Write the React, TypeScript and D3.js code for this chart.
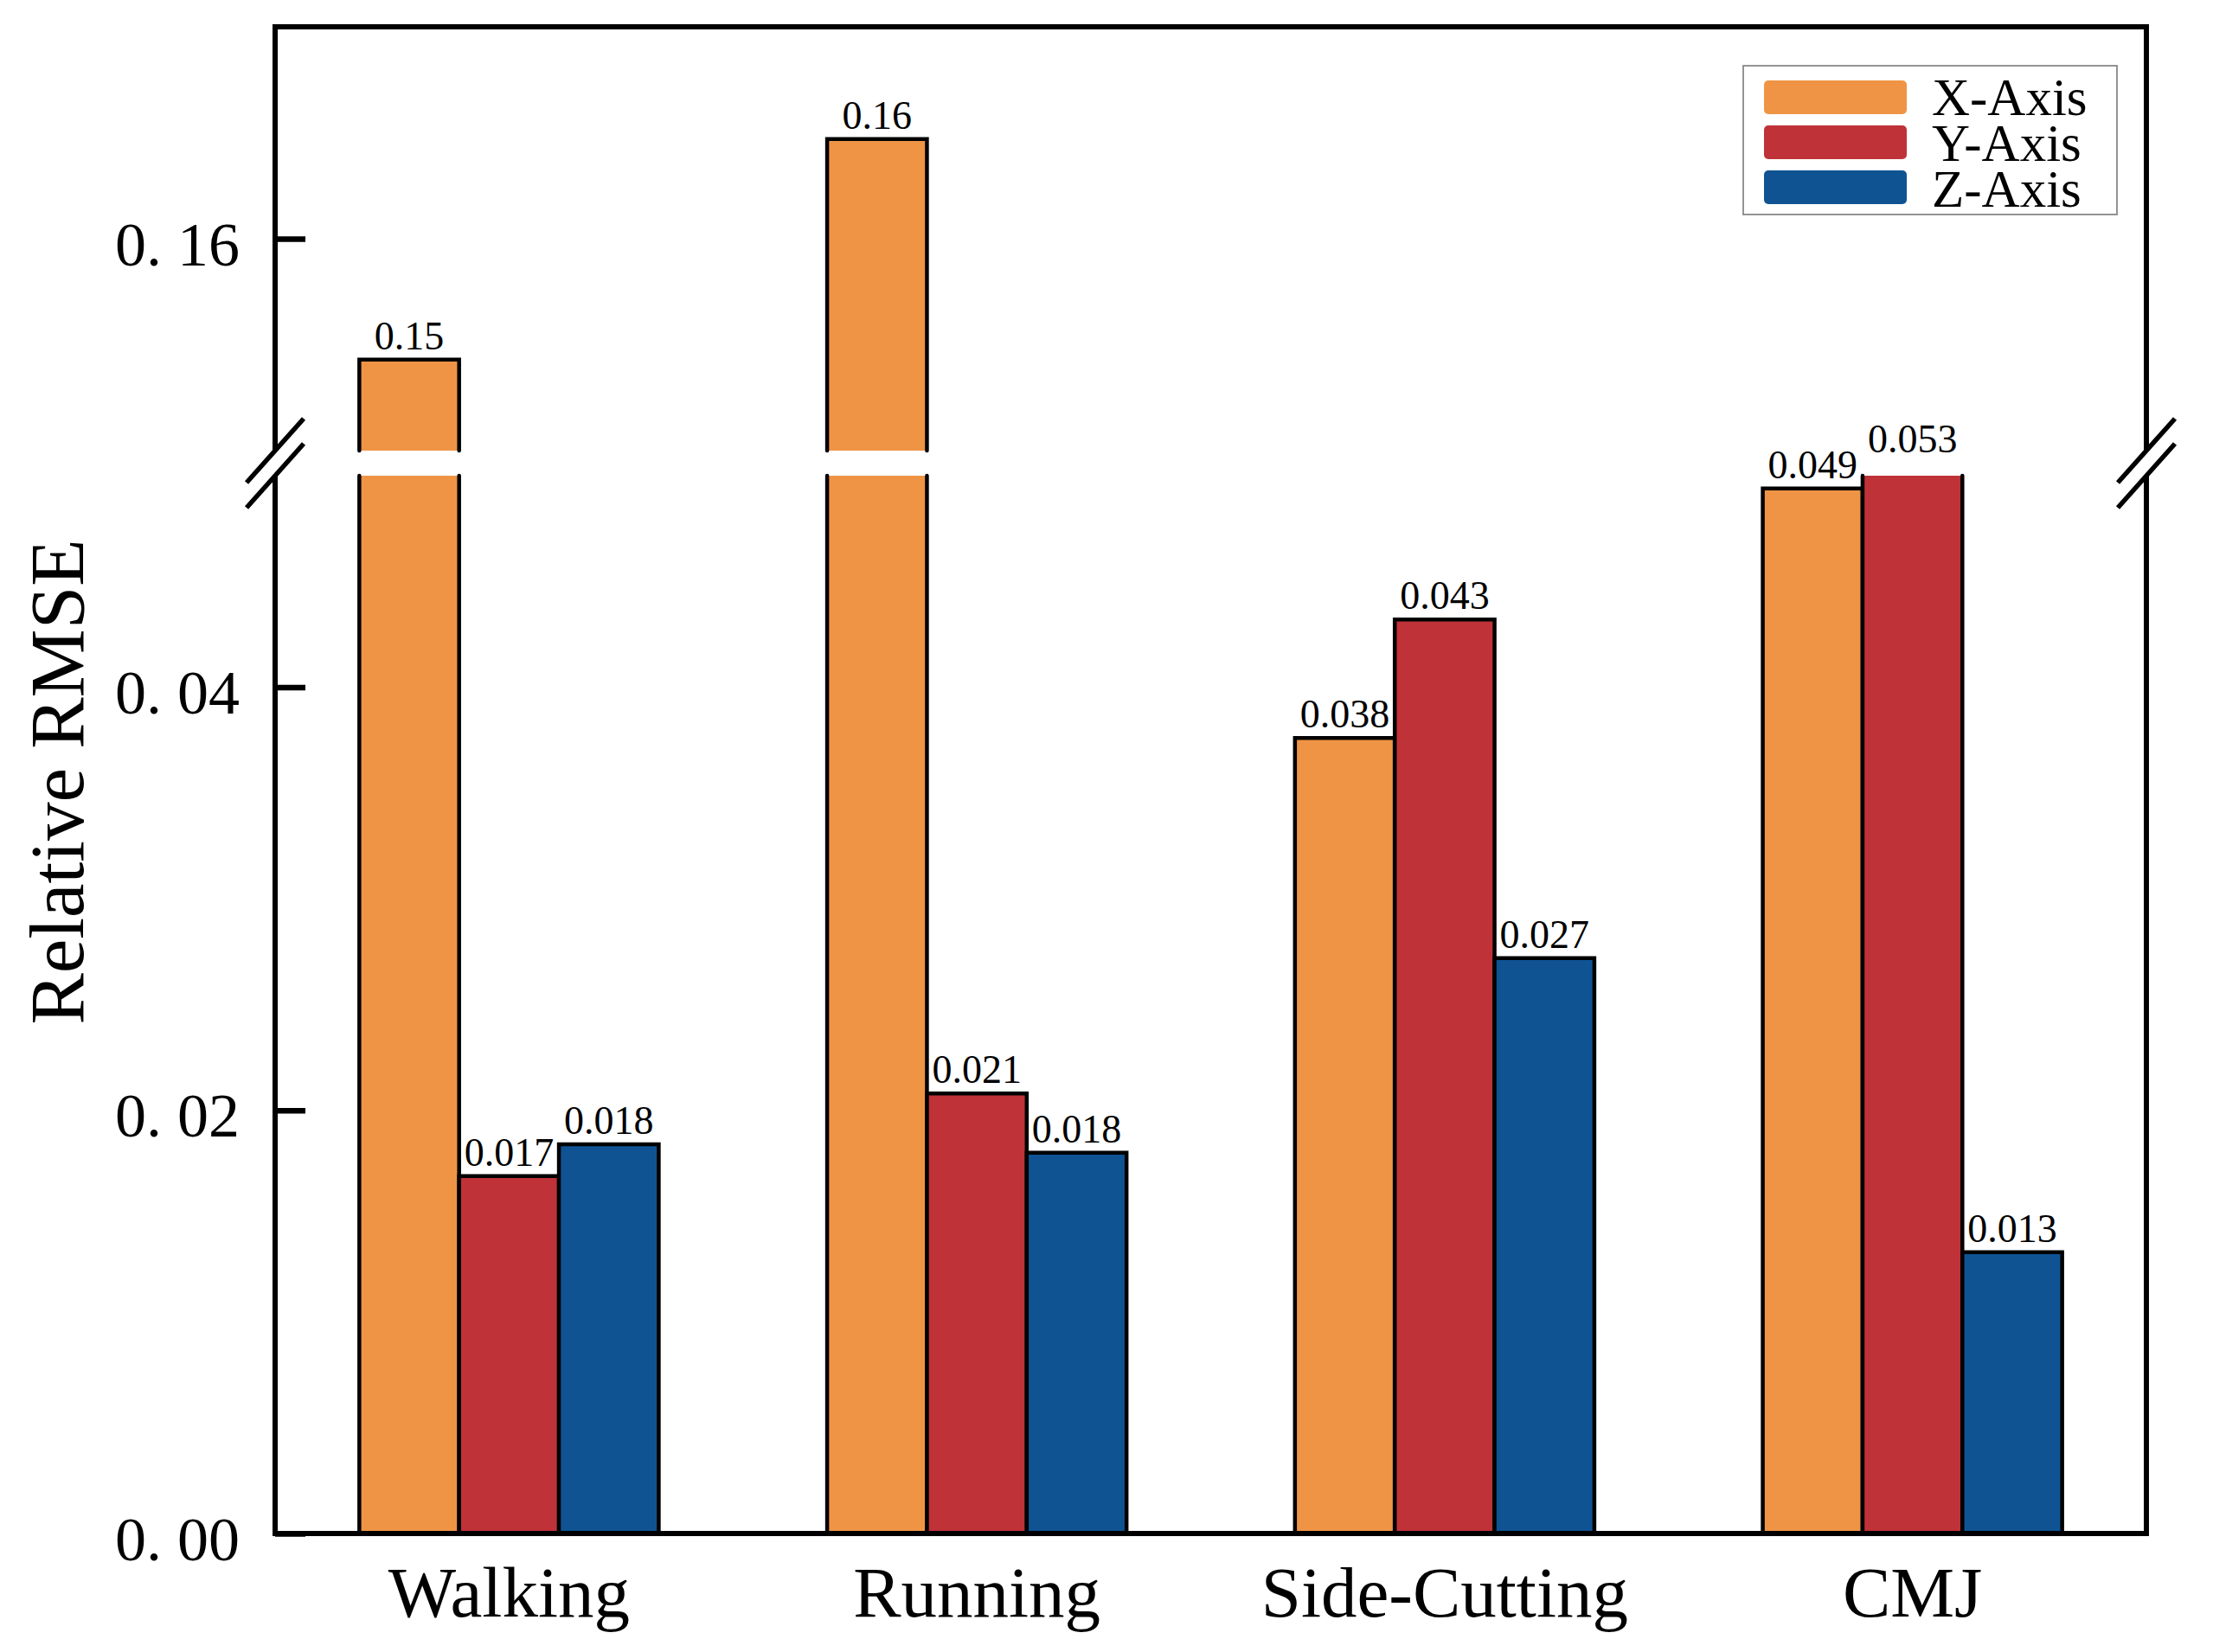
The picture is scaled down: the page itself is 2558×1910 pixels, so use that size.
import React, { useEffect, useRef } from 'react';
import * as d3 from 'd3';

const categories = ['Walking', 'Running', 'Side-Cutting', 'CMJ'];
const seriesNames = ['X-Axis', 'Y-Axis', 'Z-Axis'];
const xAxisValues = [0.1543, 0.1647, 0.0376, 0.0494];
const yAxisValues = [0.0169, 0.0208, 0.0432, 0.053];
const zAxisValues = [0.0184, 0.018, 0.0272, 0.0133];
const seriesColors = ['#EF9445', '#BF3237', '#0F5393'];
const lowerTicks = [0, 0.02, 0.04];
const lowerTickLabels = ['0. 00', '0. 02', '0. 04'];
const upperTicks = [0.16];
const upperTickLabels = ['0. 16'];
const lowerDomain = [0, 0.05];
const upperDomain = [0.15, 0.17];
const yTitle = 'Relative RMSE';

const W = 2558;
const H = 1910;
const M = { left: 318, right: 2481, top: 31, bottom: 1773 };
const lowerTop = 550;
const upperBottom = 521;
const FONT = '"Liberation Serif", "Times New Roman", serif';

export default function App() {
  const ref = useRef<SVGSVGElement | null>(null);

  useEffect(() => {
    const svg = d3.select(ref.current);
    svg.selectAll('*').remove();

    const seriesValues = [xAxisValues, yAxisValues, zAxisValues];

    const x0 = d3
      .scaleBand<string>()
      .domain(categories)
      .range([M.left, M.right])
      .paddingInner(0.36)
      .paddingOuter(0.18);
    const x1 = d3
      .scaleBand<string>()
      .domain(seriesNames)
      .range([0, x0.bandwidth()])
      .padding(0);
    const yLow = d3.scaleLinear().domain(lowerDomain).range([M.bottom, lowerTop]);
    const yUp = d3.scaleLinear().domain(upperDomain).range([upperBottom, M.top]);
    const fmt = d3.format('.2r');

    svg.append('rect').attr('width', W).attr('height', H).attr('fill', '#fff');

    const gBars = svg.append('g');
    const gLabels = svg.append('g');

    categories.forEach((cat, ci) => {
      seriesNames.forEach((sn, si) => {
        const v = seriesValues[si][ci];
        const bx0 = (x0(cat) as number) + (x1(sn) as number);
        const bx1 = bx0 + x1.bandwidth();
        // lower segment
        const lowClipped = v > lowerDomain[1];
        const lowTopY = lowClipped ? yLow(lowerDomain[1]) : yLow(v);
        gBars
          .append('rect')
          .attr('x', bx0)
          .attr('y', lowTopY)
          .attr('width', bx1 - bx0)
          .attr('height', M.bottom - lowTopY)
          .attr('fill', seriesColors[si]);
        const p = d3.path();
        if (lowClipped) {
          p.moveTo(bx0, M.bottom);
          p.lineTo(bx0, lowTopY);
          p.moveTo(bx1, lowTopY);
          p.lineTo(bx1, M.bottom);
        } else {
          p.moveTo(bx0, M.bottom);
          p.lineTo(bx0, lowTopY);
          p.lineTo(bx1, lowTopY);
          p.lineTo(bx1, M.bottom);
        }
        gBars
          .append('path')
          .attr('d', p.toString())
          .attr('fill', 'none')
          .attr('stroke', '#000')
          .attr('stroke-width', 4.5)
          .attr('stroke-linecap', 'round');

        // upper segment
        let labelY: number;
        if (v > upperDomain[0]) {
          const upTopY = yUp(Math.min(v, upperDomain[1]));
          gBars
            .append('rect')
            .attr('x', bx0)
            .attr('y', upTopY)
            .attr('width', bx1 - bx0)
            .attr('height', upperBottom - upTopY)
            .attr('fill', seriesColors[si]);
          const q = d3.path();
          q.moveTo(bx0, upperBottom);
          q.lineTo(bx0, upTopY);
          q.lineTo(bx1, upTopY);
          q.lineTo(bx1, upperBottom);
          gBars
            .append('path')
            .attr('d', q.toString())
            .attr('fill', 'none')
            .attr('stroke', '#000')
            .attr('stroke-width', 4.5)
            .attr('stroke-linecap', 'round');
          labelY = upTopY - 12;
        } else if (lowClipped) {
          labelY = lowTopY - 27;
        } else {
          labelY = lowTopY - 12;
        }
        gLabels
          .append('text')
          .attr('x', (bx0 + bx1) / 2)
          .attr('y', labelY)
          .attr('text-anchor', 'middle')
          .attr('font-family', FONT)
          .attr('font-size', 46)
          .attr('fill', '#000')
          .text(fmt(v));
      });
    });

    // spines
    const spine = svg.append('g').attr('stroke', '#000').attr('stroke-width', 6).attr('fill', 'none');
    spine.append('line').attr('x1', M.left - 3).attr('x2', M.right + 3).attr('y1', M.top).attr('y2', M.top);
    spine.append('line').attr('x1', M.left - 3).attr('x2', M.right + 3).attr('y1', M.bottom).attr('y2', M.bottom);
    [M.left, M.right].forEach((sx) => {
      spine.append('line').attr('x1', sx).attr('x2', sx).attr('y1', M.top).attr('y2', upperBottom);
      spine.append('line').attr('x1', sx).attr('x2', sx).attr('y1', lowerTop).attr('y2', M.bottom);
    });

    // break marks
    const brk = svg.append('g').attr('stroke', '#000').attr('stroke-width', 5.5);
    [M.left, M.right].forEach((sx) => {
      [upperBottom, lowerTop].forEach((sy) => {
        brk
          .append('line')
          .attr('x1', sx - 33)
          .attr('y1', sy + 37)
          .attr('x2', sx + 33)
          .attr('y2', sy - 37);
      });
    });

    // y axes (ticks inward)
    const axLow = d3
      .axisLeft(yLow)
      .tickValues(lowerTicks)
      .tickSizeInner(-35)
      .tickSizeOuter(0)
      .tickFormat((d, i) => lowerTickLabels[i]);
    const axUp = d3
      .axisLeft(yUp)
      .tickValues(upperTicks)
      .tickSizeInner(-35)
      .tickSizeOuter(0)
      .tickFormat((d, i) => upperTickLabels[i]);
    [axLow, axUp].forEach((ax) => {
      const g = svg.append('g').attr('transform', `translate(${M.left},0)`).call(ax as any);
      g.select('.domain').remove();
      g.selectAll('.tick line').attr('stroke', '#000').attr('stroke-width', 6.5);
      g.selectAll('.tick text')
        .attr('x', -41)
        .attr('dy', null)
        .attr('y', 30)
        .attr('font-family', FONT)
        .attr('font-size', 72)
        .attr('fill', '#000')
        .attr('text-anchor', 'end');
    });

    // category labels
    categories.forEach((cat) => {
      svg
        .append('text')
        .attr('x', (x0(cat) as number) + x0.bandwidth() / 2)
        .attr('y', 1869)
        .attr('text-anchor', 'middle')
        .attr('font-family', FONT)
        .attr('font-size', 83)
        .attr('fill', '#000')
        .text(cat);
    });

    // y title
    svg
      .append('text')
      .attr('transform', `translate(96,904) rotate(-90)`)
      .attr('x', 0)
      .attr('y', 0)
      .attr('text-anchor', 'middle')
      .attr('font-family', FONT)
      .attr('font-size', 89)
      .attr('fill', '#000')
      .text(yTitle);

    // legend
    const lg = svg.append('g');
    lg.append('rect')
      .attr('x', 2015)
      .attr('y', 76)
      .attr('width', 432)
      .attr('height', 172)
      .attr('fill', '#fff')
      .attr('stroke', '#888')
      .attr('stroke-width', 1.8);
    seriesNames.forEach((sn, i) => {
      const cy = 112.5 + i * 52;
      lg.append('rect')
        .attr('x', 2039)
        .attr('y', cy - 19.5)
        .attr('width', 165)
        .attr('height', 39)
        .attr('rx', 5)
        .attr('fill', seriesColors[i]);
      lg.append('text')
        .attr('x', 2233)
        .attr('y', cy + 20 + i * 1)
        .attr('font-family', FONT)
        .attr('font-size', 61)
        .attr('fill', '#000')
        .text(sn);
    });
  }, []);

  return (
    <svg
      ref={ref}
      width={W}
      height={H}
      viewBox={`0 0 ${W} ${H}`}
      style={{ position: 'absolute', left: 0, top: 0, display: 'block' }}
    />
  );
}
